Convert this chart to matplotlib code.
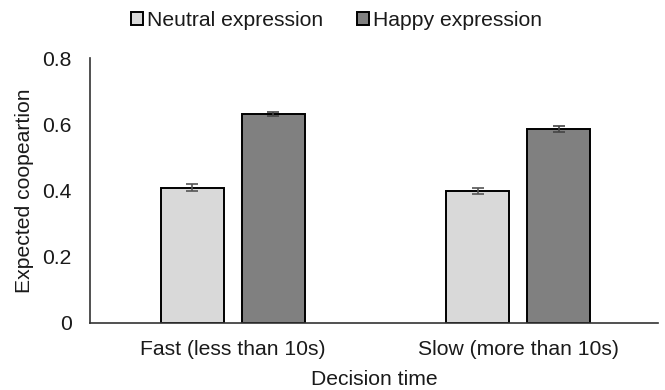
import matplotlib
matplotlib.use("Agg")
import matplotlib.pyplot as plt
import numpy as np

categories = ["Fast (less than 10s)", "Slow (more than 10s)"]
series_names = ["Neutral expression", "Happy expression"]
neutral = [0.408, 0.399]
happy = [0.632, 0.586]
neutral_err = [0.011, 0.010]
happy_err = [0.006, 0.009]
yticks = [0, 0.2, 0.4, 0.6, 0.8]
ytick_labels = ["0", "0.2", "0.4", "0.6", "0.8"]

plt.rcParams['font.family'] = ['Liberation Sans', 'DejaVu Sans']
FS = 15.2
TC = "#1a1a1a"

fig = plt.figure(figsize=(6.65, 3.9), dpi=100)
ax = fig.add_axes([90/665, 1-323/390, (658-90)/665, (323-58)/390])

x = np.arange(len(categories))
w = 0.22
off = 0.142
ax.bar(x - off, neutral, w, color="#d9d9d9", edgecolor="black", linewidth=1.4,
       label=series_names[0], yerr=neutral_err,
       error_kw=dict(ecolor="#555555", capsize=4, elinewidth=1.2, capthick=1.2))
ax.bar(x + off, happy, w, color="#808080", edgecolor="black", linewidth=1.4,
       label=series_names[1], yerr=happy_err,
       error_kw=dict(ecolor="#444444", capsize=4, elinewidth=1.2, capthick=1.2))

ax.set_xlim(-0.5, 1.49)
ax.set_ylim(0, 0.8)
ax.set_yticks(yticks)
ax.set_yticklabels(ytick_labels)
ax.set_xticks(x)
ax.set_xticklabels(categories)
ax.tick_params(axis='both', length=0, labelsize=FS, colors=TC)
ax.tick_params(axis='y', pad=13)
ax.tick_params(axis='x', pad=12)
for s in ["top", "right"]:
    ax.spines[s].set_visible(False)
for s in ["left", "bottom"]:
    ax.spines[s].set_color("#333333")
    ax.spines[s].set_linewidth(1.2)

ax.set_ylabel("Expected coopeartion", fontsize=FS, color=TC, labelpad=6)
ax.set_xlabel("Decision time", fontsize=FS, color=TC, labelpad=8)

leg = fig.legend(loc="upper center", bbox_to_anchor=(0.506, 1.02), ncol=2, frameon=False,
                 fontsize=FS, handlelength=0.55, handleheight=0.55, handletextpad=0.2,
                 columnspacing=1.6)
for t in leg.get_texts():
    t.set_color(TC)

fig.savefig("out.png", dpi=100)
